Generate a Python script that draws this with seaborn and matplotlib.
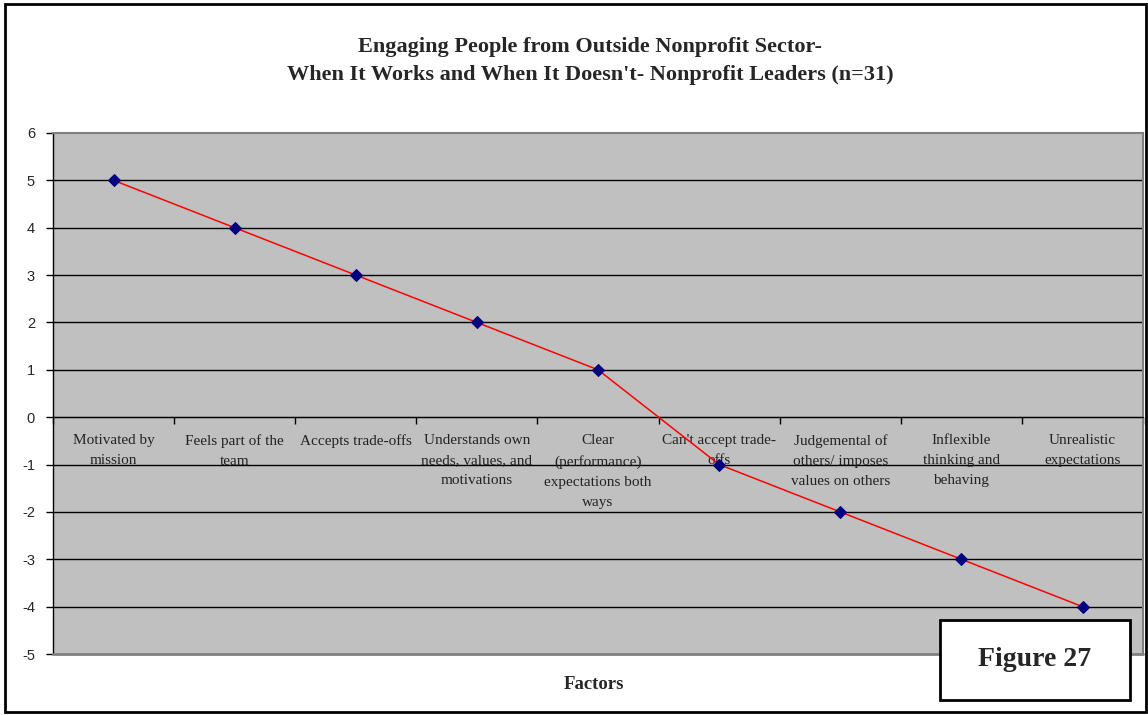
import matplotlib
matplotlib.use("Agg")
import matplotlib.pyplot as plt
from matplotlib.patches import Rectangle
import seaborn as sns
import pandas as pd

factors = ["Motivated by mission", "Feels part of the team", "Accepts trade-offs",
           "Understands own needs, values, and motivations",
           "Clear (performance) expectations both ways", "Can't accept trade-offs",
           "Judgemental of others/ imposes values on others",
           "Inflexible thinking and behaving", "Unrealistic expectations"]
display_labels = ["Motivated by\nmission", "Feels part of the\nteam", "Accepts trade-offs",
                  "Understands own\nneeds, values, and\nmotivations",
                  "Clear\n(performance)\nexpectations both\nways", "Can't accept trade-\noffs",
                  "Judgemental of\nothers/ imposes\nvalues on others",
                  "Inflexible\nthinking and\nbehaving", "Unrealistic\nexpectations"]
values = [5, 4, 3, 2, 1, -1, -2, -3, -4]
yticks = list(range(-5, 7))

title = "Engaging People from Outside Nonprofit Sector-\nWhen It Works and When It Doesn't- Nonprofit Leaders (n=31)"

sns.set_style("white")
plt.rcParams['font.family'] = ['DejaVu Sans']

df = pd.DataFrame({"Factor": factors, "Value": values})

fig = plt.figure(figsize=(11.48, 7.15), dpi=100)
ax = fig.add_axes([0.0462, 0.0853, 0.9495, 0.7287])
ax.set_facecolor("#C0C0C0")

for y in yticks:
    if -5 < y < 6:
        ax.axhline(y, color="black", lw=1.0, zorder=1)

sns.lineplot(data=df, x="Factor", y="Value", sort=False, color="#FF0000", lw=1.1,
             marker="D", markersize=6, markerfacecolor="#000080",
             markeredgecolor="#000080", ax=ax, zorder=3)

n = len(factors)
ax.set_xlim(-0.5, n - 0.5)
ax.set_ylim(-5, 6)
ax.set_yticks(yticks)
ax.set_yticklabels([str(v) for v in yticks], fontfamily="Liberation Sans", fontsize=10.5)
ax.tick_params(axis="y", direction="out", length=5, width=1, color="black", pad=8, left=True)

ax.spines["bottom"].set_position(("data", 0))
ax.spines["bottom"].set_color("black")
ax.spines["left"].set_color("black")
ax.spines["left"].set_linewidth(1.0)
for s in ["top", "right"]:
    ax.spines[s].set_visible(True)
    ax.spines[s].set_color("#808080")
    ax.spines[s].set_linewidth(1.5)
ax.axhline(-5, color="#808080", lw=2, zorder=4, clip_on=False)

ax.set_xticks([i - 0.5 for i in range(n + 1)])
ax.set_xticklabels([])
ax.tick_params(axis="x", direction="out", length=5, width=1, color="black", bottom=True)
ax.set_xlabel("")
ax.set_ylabel("")

for i, lab in enumerate(display_labels):
    ax.annotate(lab, xy=(i, 0), xytext=(0, -12), textcoords="offset points",
                ha="center", va="top", fontfamily="Liberation Serif", fontsize=11,
                color="#222222", linespacing=1.72, zorder=2)

fig.text(0.514, 0.915, title, ha="center", va="center", fontfamily="Liberation Serif",
         fontweight="bold", fontsize=16, linespacing=1.55)
fig.text(0.517, 0.043, "Factors", ha="center", va="center", fontfamily="Liberation Serif",
         fontweight="bold", fontsize=13.5)

fig.patches.append(Rectangle((0.004, 0.004), 0.994, 0.991, transform=fig.transFigure,
                             fill=False, edgecolor="black", lw=2))
box = Rectangle((0.819, 0.021), 0.165, 0.112, transform=fig.transFigure,
                facecolor="white", edgecolor="black", lw=2, zorder=10)
fig.patches.append(box)
fig.text(0.9015, 0.077, "Figure 27", ha="center", va="center", fontfamily="Liberation Serif",
         fontweight="bold", fontsize=20, zorder=11)

fig.savefig("out.png", dpi=100)
